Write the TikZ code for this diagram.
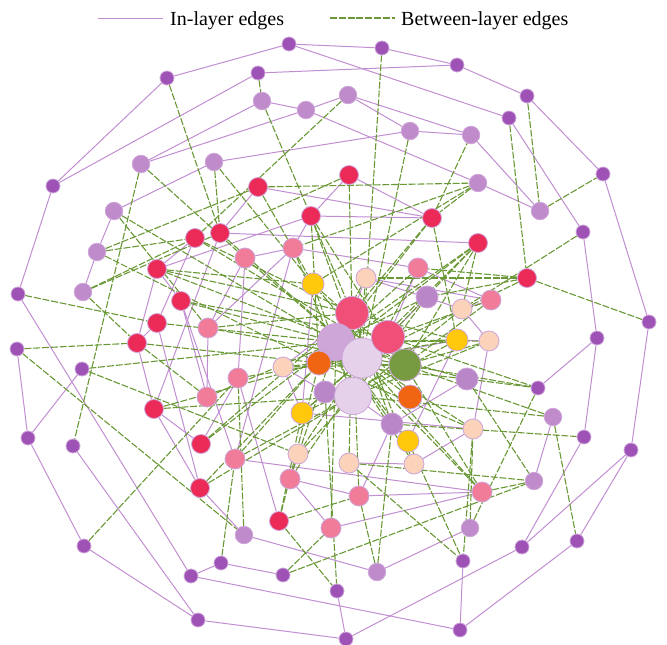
\documentclass[tikz,border=0pt]{standalone}
\usepackage{fontspec}
\setmainfont{Liberation Serif}
\usetikzlibrary{backgrounds}
\definecolor{inlc}{HTML}{C28ED2}
\definecolor{btwc}{HTML}{6A9836}
\definecolor{cdark}{HTML}{9E52B6}
\definecolor{clight}{HTML}{C08BCB}
\definecolor{cred}{HTML}{EB2A58}
\definecolor{cpink}{HTML}{F17C99}
\definecolor{cpeach}{HTML}{FBD2BA}
\definecolor{cyellow}{HTML}{FFC80A}
\definecolor{corange}{HTML}{EF6511}
\definecolor{cgreen}{HTML}{779B41}
\definecolor{cbigred}{HTML}{F04F78}
\definecolor{clav}{HTML}{CFA6D8}
\definecolor{cpale}{HTML}{E5D2EA}
\definecolor{cmed}{HTML}{B986C8}
\definecolor{cbord}{HTML}{CDA5DA}
\begin{document}
\begin{tikzpicture}[x=1pt,y=-1pt,
  nbase/.style={circle,inner sep=0pt,draw=cbord,line width=0.8pt},
  nDark/.style={nbase,fill=cdark,minimum size=14pt},
  nLight/.style={nbase,fill=clight,minimum size=17.5pt},
  nRed/.style={nbase,fill=cred,minimum size=19pt},
  nPink/.style={nbase,fill=cpink,minimum size=20pt},
  nPeach/.style={nbase,fill=cpeach,minimum size=20pt},
  nYellow/.style={nbase,fill=cyellow,minimum size=22pt},
  nOrange/.style={nbase,fill=corange,minimum size=24pt},
  nGreen/.style={nbase,fill=cgreen,minimum size=32pt},
  nBigRed/.style={nbase,fill=cbigred,minimum size=33pt},
  nLav/.style={nbase,fill=clav,minimum size=37pt},
  nPale/.style={nbase,fill=cpale},
  nMed/.style={nbase,fill=cmed,minimum size=22pt},
  inl/.style={draw=inlc,line width=1pt},
  btw/.style={draw=btwc,line width=1.1pt,dash pattern=on 7pt off 1.8pt},
  legtext/.style={font=\fontsize{20}{24}\selectfont,anchor=base west,inner sep=0pt}
]
\useasboundingbox (0,0) rectangle (667,645);

% outer and inner dark purple nodes
\foreach \n/\x/\y in {o1/289/44,o2/382/48,o3/457/65,o4/527/96,o5/603/174,o6/649/322,o7/631/450,o8/577/541,o9/460/630,o10/346/639,o11/198/620,o12/84/546,o13/28/438,o14/17/349,o15/18/294,o16/53/186,o17/167/78,
 s1/258/73,s2/509/118,s3/583/232,s4/597/338,s5/538/388,s6/584/437,d7/522/547,d8/463/561,d9/337/591,d10/283/575,d11/221/563,d12/191/576,d13/73/446,d14/82/369}
  \node[nDark] (\n) at (\x,\y) {};
% light purple
\foreach \n/\x/\y in {l1/262/101,l2/306/110,l3/348/95,l4/410/131,l5/471/135,l6/478/183,l7/540/211,l8/141/164,l9/214/162,l10/114/211,l11/97/252,l12/83/292,l13/244/535,l14/377/572,l15/470/528,l16/534/481,l17/553/417}
  \node[nLight] (\n) at (\x,\y) {};
% red
\foreach \n/\x/\y in {r1/258/187,r2/349/175,r3/311/216,r4/432/218,r5/478/243,r6/527/278,r7/195/238,r8/220/233,r9/157/269,r10/181/301,r11/157/323,r12/137/343,r13/154/409,r14/201/444,r15/200/488,r16/279/521}
  \node[nRed] (\n) at (\x,\y) {};
% pink
\foreach \n/\x/\y in {p1/293/248,p2/245/258,p3/418/268,p4/491/300,p5/208/328,p6/238/378,p7/207/397,p8/235/459,p9/290/479,p10/359/496,p11/331/528,p12/482/492}
  \node[nPink] (\n) at (\x,\y) {};
% peach
\foreach \n/\x/\y in {e1/366/278,e2/462/309,e3/489/341,e4/283/367,e5/298/454,e6/349/463,e7/414/464,e8/473/429}
  \node[nPeach] (\n) at (\x,\y) {};
% medium purple
\foreach \n/\x/\y in {m1/427/297,m2/325/392,m3/392/424,m4/467/379}
  \node[nMed] (\n) at (\x,\y) {};
% central large nodes
\node[nBigRed] (br1) at (352,313) {};
\node[nLav] (bl) at (336,342) {};
\node[nPale,minimum size=40pt] (vl1) at (362,358) {};
\node[nBigRed] (br2) at (388,337) {};
\node[nPale,minimum size=37pt] (vl2) at (353,396) {};
\node[nGreen] (g) at (405,365) {};
\node[nOrange] (or1) at (319,363) {};
\node[nOrange] (or2) at (410,397) {};
% yellow
\foreach \n/\x/\y in {y1/313/284,y2/457/340,y3/302/413,y4/408/441}
  \node[nYellow] (\n) at (\x,\y) {};

\begin{scope}[on background layer]
% in-layer edges
\foreach \a/\b in {o17/o1,o1/o2,o2/o3,o3/o4,o4/o5,o5/o6,o6/o7,o7/o8,o8/o9,o10/o11,o11/o12,o12/o13,o13/o14,o15/o16,o16/o17,
 o16/s1,s1/o3,o1/s2,s2/s3,s3/s4,s4/s5,s4/s6,s6/d7,o7/d7,d7/o10,d8/o9,d9/o10,d10/d11,d11/d12,d12/o9,o15/d12,d13/o11,d14/o13,
 l8/l1,l8/l2,l1/l2,l2/l3,l3/l4,l3/l5,l4/l5,l2/l6,l5/l7,l6/l7,l9/l4,l9/l10,l10/l11,l11/l12,l13/l14,l14/l15,l16/l17,
 r1/r8,r1/r4,r2/r3,r2/r4,r3/r4,r8/r5,r9/r3,r7/r9,r9/r10,r9/r12,r10/p7,r7/r11,r8/r13,r11/r12,r11/r15,r12/r13,r13/r14,r13/r15,p6/r14,r16/p6,r10/p8,r15/l13,
 p1/p2,p1/p3,p1/r3,p1/p5,p1/p8,p2/p5,p2/p6,p5/p7,p3/p4,p3/br2,p8/p12,p9/p10,p9/p11,p10/p12,p11/p12,p9/e5,p10/m3,
 e1/e2,e1/br1,e2/e3,e2/p4,e3/e8,y2/e3,e4/br1,e4/y3,e4/m2,y1/y3,y3/e8,e6/e7,e7/e8,y2/y4,m4/m3,m1/br2,y2/vl1,bl/or1,vl2/m3,e1/p4}
  \draw[inl] (\a) -- (\b);
% between-layer edges
\foreach \a/\b in {o4/l7,l7/o5,s2/r6,r6/o6,s3/e2,s5/g,s5/l15,br2/s5,m4/s5,l17/vl2,l17/g,m3/s6,m4/l16,e6/l16,p12/l16,l17/o8,e8/d8,y4/d8,e6/d8,
 d10/p11,d10/l16,r16/d9,m2/d9,l14/p10,l14/m3,o14/l13,l13/p6,d14/e5,d14/bl,o14/r12,o15/r11,o12/p6,d11/p8,l8/d13,l8/p2,
 r1/l6,l6/p1,l6/r4,r4/l5,r4/y2,r4/br1,r2/r8,r2/br1,l3/r7,s1/l1,l1/br1,o2/vl1,l4/vl1,l9/r8,l9/y1,l11/r7,l11/or1,l11/r1,l10/bl,l10/p5,
 l12/r7,l12/r8,l12/r12,o17/r8,r1/y1,y1/l6,
 r5/g,r5/br2,r5/vl1,r5/or1,r5/bl,r5/e2,r6/e1,r6/p3,r6/vl1,r6/m1,p4/g,p4/br2,y2/bl,y2/br1,y2/vl2,y2/or1,
 r12/or1,r12/p7,r11/bl,r9/br1,r9/y1,r10/bl,r10/br2,r13/or1,r13/vl2,r14/bl,r14/br1,r15/vl2,r15/or1,p8/vl2,p8/or1,p9/bl,p9/br2,e5/vl2,
 r16/p10,r16/y3,r16/or1,p6/vl1,p7/bl,p5/br1,p2/vl1,p1/vl2,p3/bl,p3/vl2,e3/g,e3/bl,e2/vl2,e8/vl1,e8/or1,e7/bl,e6/br1,p10/br1,p11/bl,
 p12/bl,p12/br2,p12/vl1,l15/e8,y4/bl,y3/br2,y3/g,e4/g,e4/vl1,m2/br2,y1/g,y1/vl2,m1/bl,m1/vl2,e1/or1,e1/vl2,m3/bl,m3/br1,m4/bl,m4/or1,
 or2/bl,or2/y1,g/or1,g/p5,br1/e7,br2/y3,vl1/e5,vl2/e3,r3/vl1,r3/g,r3/or1,r4/or1,r7/br1,r8/vl1,r7/g,r9/g}
  \draw[btw] (\a) -- (\b);
\end{scope}

% legend
\coordinate (la) at (98,18);
\coordinate (lb) at (163,18);
\coordinate (lc) at (330,18);
\coordinate (ld) at (395,18);
\draw[inl] (la) -- (lb);
\draw[btw] (lc) -- (ld);
\node[legtext] (t1) at (170,25) {In-layer edges};
\node[legtext] (t2) at (401,25) {Between-layer edges};
\end{tikzpicture}
\end{document}
